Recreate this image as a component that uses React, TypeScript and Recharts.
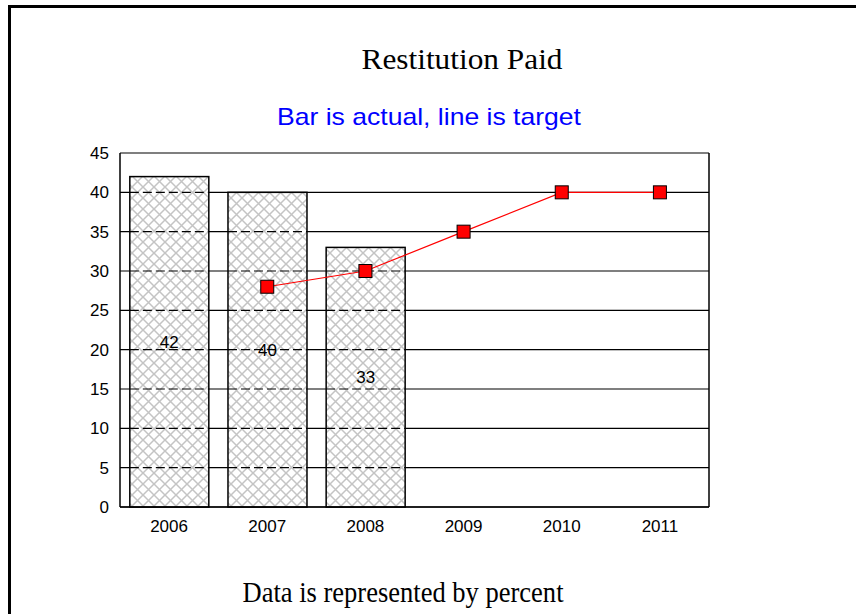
import {
  ComposedChart,
  Bar,
  Line,
  XAxis,
  YAxis,
  CartesianGrid,
  LabelList,
} from "recharts";

const years = ["2006", "2007", "2008", "2009", "2010", "2011"];
const actual: (number | null)[] = [42, 40, 33, null, null, null];
const target: (number | null)[] = [null, 28, 30, 35, 40, 40];
const yTicks = [0, 5, 10, 15, 20, 25, 30, 35, 40, 45];

const data = years.map((year, i) => ({
  year,
  actual: actual[i],
  target: target[i],
}));

const sans = "'Liberation Sans', Arial, sans-serif";
const serif = "'Liberation Serif', 'Times New Roman', serif";

// hatched bar, with the grid lines showing through as dashes
function HatchBar(props: any) {
  const { x, y, width, height, value } = props;
  if (!value || height == null) return null;
  const perUnit = height / value;
  return (
    <g>
      <rect x={x} y={y} width={width} height={height} fill="#fff" />
      <rect x={x} y={y} width={width} height={height} fill="url(#hatch)" />
      {yTicks
        .filter((t) => t > 0 && t < value)
        .map((t) => {
          const ly = y + height - t * perUnit;
          return (
            <line
              key={t}
              x1={x}
              x2={x + width}
              y1={ly}
              y2={ly}
              stroke="#000"
              strokeWidth={1.2}
              strokeDasharray="9 4"
            />
          );
        })}
      <rect
        x={x}
        y={y}
        width={width}
        height={height}
        fill="none"
        stroke="#000"
        strokeWidth={1.5}
      />
    </g>
  );
}

function SquareDot(props: any) {
  const { cx, cy, index } = props;
  if (cx == null || cy == null) return <g key={`d${index}`} />;
  return (
    <rect
      key={`d${index}`}
      x={cx - 6.5}
      y={cy - 6.5}
      width={13}
      height={13}
      fill="#ff0000"
      stroke="#000"
      strokeWidth={1}
    />
  );
}

export default function App() {
  return (
    <div
      style={{
        position: "absolute",
        left: 0,
        top: 0,
        width: 856,
        height: 614,
        overflow: "hidden",
        background: "#fff",
      }}
    >
      <div
        style={{
          position: "absolute",
          left: 8,
          top: 5,
          width: 900,
          height: 700,
          border: "3px solid #000",
        }}
      />
      <svg
        width={856}
        height={614}
        style={{ position: "absolute", left: 0, top: 0 }}
      >
        <text
          x={462}
          y={69}
          textAnchor="middle"
          fontFamily={serif}
          fontSize={29}
          textLength={201}
          lengthAdjust="spacingAndGlyphs"
          fill="#000"
        >
          Restitution Paid
        </text>
        <text
          x={429}
          y={125}
          textAnchor="middle"
          fontFamily={sans}
          fontSize={24}
          textLength={304}
          lengthAdjust="spacingAndGlyphs"
          fill="#0000ff"
        >
          Bar is actual, line is target
        </text>
        <text
          x={403}
          y={602}
          textAnchor="middle"
          fontFamily={serif}
          fontSize={29}
          textLength={321}
          lengthAdjust="spacingAndGlyphs"
          fill="#000"
        >
          Data is represented by percent
        </text>
      </svg>
      <div style={{ position: "absolute", left: 0, top: 0 }}>
        <ComposedChart
          width={856}
          height={614}
          data={data}
          margin={{ top: 153, right: 146, bottom: 77, left: 90 }}
          barCategoryGap="10%"
        >
          <defs>
            <pattern id="hatch" width={11} height={11} patternUnits="userSpaceOnUse">
              <path d="M0,0 L11,11 M11,0 L0,11" stroke="#c4c4c4" strokeWidth={1.5} />
            </pattern>
          </defs>
          <CartesianGrid
            yAxisId="left"
            vertical={false}
            stroke="#000"
            strokeWidth={1.2}
          />
          <XAxis
            dataKey="year"
            height={30}
            tickLine={false}
            tickMargin={7}
            axisLine={{ stroke: "#000", strokeWidth: 1.5 }}
            tick={{ fill: "#000", fontSize: 17, fontFamily: sans }}
          />
          <YAxis
            yAxisId="left"
            width={30}
            domain={[0, 45]}
            ticks={yTicks}
            interval={0}
            tickLine={false}
            tickMargin={5}
            axisLine={{ stroke: "#000", strokeWidth: 1.5 }}
            tick={{ fill: "#000", fontSize: 17, fontFamily: sans }}
          />
          <YAxis
            yAxisId="right"
            orientation="right"
            width={1}
            domain={[0, 45]}
            ticks={yTicks}
            tick={false}
            tickLine={false}
            axisLine={{ stroke: "#000", strokeWidth: 1.5 }}
          />
          <Bar
            yAxisId="left"
            dataKey="actual"
            shape={<HatchBar />}
            isAnimationActive={false}
          >
            <LabelList
              dataKey="actual"
              position="center"
              fill="#000"
              fontSize={17}
              fontFamily={sans}
            />
          </Bar>
          <Line
            yAxisId="left"
            dataKey="target"
            stroke="#ff0000"
            strokeWidth={1.2}
            dot={<SquareDot />}
            activeDot={false}
            isAnimationActive={false}
          />
        </ComposedChart>
      </div>
    </div>
  );
}
